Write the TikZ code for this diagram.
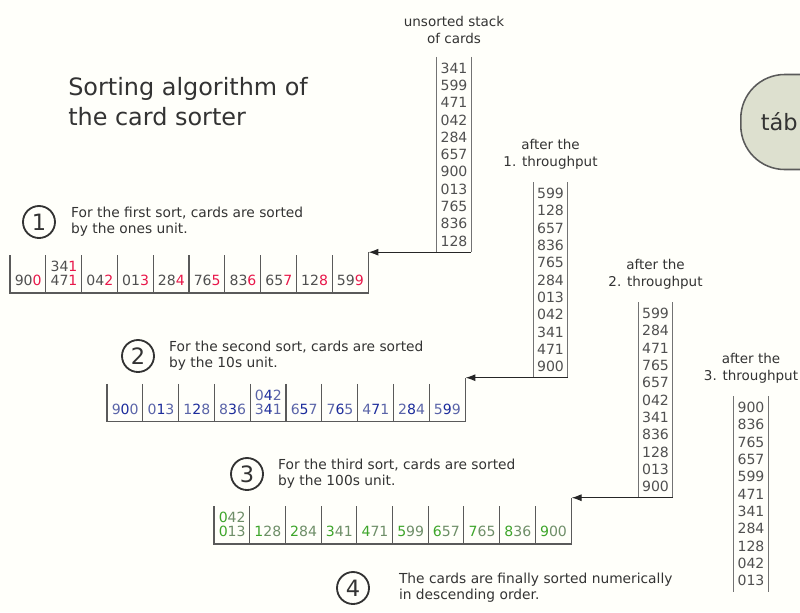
\documentclass[tikz,border=0pt]{standalone}
\usepackage{fontspec}
\setmainfont{DejaVu Sans}
\usetikzlibrary{positioning,arrows.meta}
\usepackage{xcolor}

\definecolor{txtgray}{HTML}{333333}
\definecolor{numgray}{HTML}{505050}
\definecolor{linegray}{HTML}{5A5A5A}
\definecolor{onesred}{HTML}{E8174A}
\definecolor{tensblue}{HTML}{1C2C9C}
\definecolor{tenslight}{HTML}{5A64A8}
\definecolor{hundgreen}{HTML}{3DA52A}
\definecolor{hundlight}{HTML}{6E8E68}
\definecolor{tabfill}{HTML}{DDE0CF}

\newcommand\onesd[3]{\textcolor{numgray}{#1#2}\textcolor{onesred}{#3}}
\newcommand\tensd[3]{\textcolor{tenslight}{#1}\textcolor{tensblue}{#2}\textcolor{tenslight}{#3}}
\newcommand\hundd[3]{\textcolor{hundgreen}{#1}\textcolor{hundlight}{#2#3}}
\newcommand\twocards[2]{\begin{tabular}[b]{@{}c@{}}#1\\[-2.4pt]#2\end{tabular}}

\begin{document}
\begin{tikzpicture}[x=0.025cm,y=-0.025cm]
      \tikzstyle{cardnum}=[font=\fontsize{10}{12.3}\selectfont]
      \tikzstyle{stack}=[cardnum, align=center, inner xsep=0pt, inner ysep=4pt, minimum width=0.84cm, text=numgray]
      \tikzstyle{cell}=[cardnum, anchor=south west, inner sep=0pt, minimum width=0.895cm, text height=0.75cm, text depth=0.175cm]
      \tikzstyle{stacklabel}=[font=\fontsize{9.6}{11.8}\selectfont, align=center, inner sep=0pt, text=txtgray]
      \tikzstyle{note}=[font=\fontsize{9.8}{11.4}\selectfont, align=left, inner sep=0pt, text=txtgray, anchor=west]
      \tikzstyle{stepnum}=[circle, draw=txtgray, line width=1.3pt, minimum size=0.8cm, inner sep=0pt, font=\fontsize{16}{16}\selectfont, text=txtgray]
      \tikzstyle{rowline}=[draw=linegray, line width=0.8pt]
      \tikzstyle{stackline}=[draw=linegray!85, line width=0.8pt]
      \tikzstyle{feed}=[-{Latex[length=7pt,width=5pt]}, line width=0.7pt, black!85]
      \tikzstyle{tabbox}=[draw=linegray, line width=1.1pt, fill=tabfill, rounded corners=1.1cm, minimum height=2.375cm, text width=5cm, align=left, inner xsep=0.5cm, font=\fontsize{16}{19}\selectfont, text=txtgray]

      \useasboundingbox (0,0) rectangle (800,612);
      \fill[white!98!yellow] (0,0) rectangle (800,612);

      \node[font=\fontsize{17}{21.3}\selectfont, align=left, inner sep=0pt, anchor=north west, text=txtgray] (title) at (68,77) {Sorting algorithm of\\the card sorter};
      \node[tabbox, anchor=west] (tab) at (740,122) {táb};

      \node[stack] (s0) at (454,154.5) {341\\599\\471\\042\\284\\657\\900\\013\\765\\836\\128};
      \node[stack] (s1) at (550.5,280) {599\\128\\657\\836\\765\\284\\013\\042\\341\\471\\900};
      \node[stack] (s2) at (655.5,400) {599\\284\\471\\765\\657\\042\\341\\836\\128\\013\\900};
      \node[stack] (s3) at (751,494) {900\\836\\765\\657\\599\\471\\341\\284\\128\\042\\013};
      \foreach \s in {s0,s1,s2,s3}
        \draw[stackline] (\s.north west) -- (\s.south west) (\s.north east) -- (\s.south east);

      \node[stacklabel, above=0.32cm of s0] (l0) {unsorted stack\\of cards};
      \node[stacklabel, above=0.32cm of s1] (l1) {after the\\1. throughput};
      \node[stacklabel, above=0.32cm of s2] (l2) {after the\\2. throughput};
      \node[stacklabel, above=0.32cm of s3] (l3) {after the\\3. throughput};

      \foreach \n [count=\i] in {{\onesd 900},{\twocards{\onesd 341}{\onesd 471}},{\onesd 042},{\onesd 013},{\onesd 284},{\onesd 765},{\onesd 836},{\onesd 657},{\onesd 128},{\onesd 599}}
        \node[cell] (a\i) at ({10+(\i-1)*35.8},293) {\n};
      \foreach \n [count=\i] in {{\tensd 900},{\tensd 013},{\tensd 128},{\tensd 836},{\twocards{\tensd 042}{\tensd 341}},{\tensd 657},{\tensd 765},{\tensd 471},{\tensd 284},{\tensd 599}}
        \node[cell] (b\i) at ({107+(\i-1)*35.8},421.5) {\n};
      \foreach \n [count=\i] in {{\twocards{\hundd 042}{\hundd 013}},{\hundd 128},{\hundd 284},{\hundd 341},{\hundd 471},{\hundd 599},{\hundd 657},{\hundd 765},{\hundd 836},{\hundd 900}}
        \node[cell] (c\i) at ({214+(\i-1)*35.7},544) {\n};

      \coordinate (in1) at (a10.south east |- s0.south);
      \coordinate (in2) at (b10.south east |- s1.south);
      \coordinate (in3) at (c10.south east |- s2.south);
      \draw[rowline] (a1.north west) |- (a10.south east) -- (in1);
      \draw[rowline] (b1.north west) |- (b10.south east) -- (in2);
      \draw[rowline] (c1.north west) |- (c10.south east) -- (in3);
      \foreach \r in {a,b,c}
        \foreach \i in {2,...,10}
          \draw[rowline] (\r\i.north west) -- (\r\i.south west);

      \draw[feed] (s0.south east) -- (in1);
      \draw[feed] (s1.south east) -- (in2);
      \draw[feed] (s2.south east) -- (in3);

      \node[stepnum] (n1) at (39,222) {1};
      \node[stepnum] (n2) at (138,356) {2};
      \node[stepnum] (n3) at (247,474) {3};
      \node[stepnum] (n4) at (353,588) {4};
      \node[note, right=0.375cm of n1] (t1) {For the first sort, cards are sorted\\by the ones unit.};
      \node[note, right=0.35cm of n2] (t2) {For the second sort, cards are sorted\\by the 10s unit.};
      \node[note, right=0.35cm of n3] (t3) {For the third sort, cards are sorted\\by the 100s unit.};
      \node[note, right=0.72cm of n4] (t4) {The cards are finally sorted numerically\\in descending order.};
\end{tikzpicture}
\end{document}
